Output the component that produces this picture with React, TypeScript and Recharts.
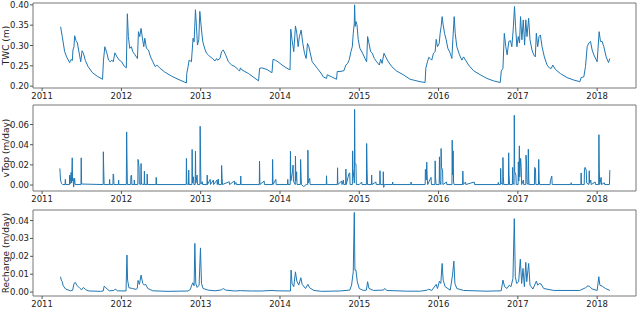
import { LineChart, Line, XAxis, YAxis, ReferenceArea } from "recharts";

// decimal year, value
const twc: [number, number][] = [
  [2011.233, 0.346], [2011.254, 0.322], [2011.284, 0.285], [2011.309, 0.272], [2011.347, 0.258],
  [2011.368, 0.266], [2011.381, 0.263], [2011.389, 0.289], [2011.402, 0.297], [2011.41, 0.324],
  [2011.427, 0.312], [2011.444, 0.307], [2011.487, 0.26], [2011.504, 0.287], [2011.521, 0.281],
  [2011.546, 0.263], [2011.58, 0.248], [2011.635, 0.233], [2011.698, 0.224], [2011.762, 0.217],
  [2011.774, 0.264], [2011.791, 0.297], [2011.817, 0.281], [2011.838, 0.264], [2011.859, 0.26],
  [2011.88, 0.264], [2011.897, 0.26], [2011.918, 0.282], [2011.944, 0.272], [2011.973, 0.264],
  [2012.003, 0.26], [2012.037, 0.249], [2012.062, 0.245], [2012.075, 0.378], [2012.088, 0.322],
  [2012.105, 0.293], [2012.126, 0.297], [2012.143, 0.285], [2012.172, 0.277], [2012.202, 0.268],
  [2012.215, 0.334], [2012.231, 0.322], [2012.248, 0.342], [2012.265, 0.318], [2012.282, 0.297],
  [2012.295, 0.318], [2012.316, 0.293], [2012.341, 0.289], [2012.367, 0.272], [2012.397, 0.26],
  [2012.426, 0.248], [2012.447, 0.252], [2012.481, 0.245], [2012.545, 0.235], [2012.629, 0.225],
  [2012.714, 0.217], [2012.82, 0.208], [2012.824, 0.231], [2012.841, 0.248], [2012.854, 0.264],
  [2012.871, 0.262], [2012.883, 0.26], [2012.904, 0.318], [2012.917, 0.309], [2012.934, 0.388],
  [2012.947, 0.346], [2012.959, 0.301], [2012.976, 0.314], [2012.989, 0.384], [2013.01, 0.338],
  [2013.027, 0.309], [2013.053, 0.291], [2013.074, 0.281], [2013.095, 0.277], [2013.12, 0.272],
  [2013.15, 0.268], [2013.179, 0.262], [2013.201, 0.268], [2013.213, 0.264], [2013.243, 0.268],
  [2013.264, 0.285], [2013.285, 0.289], [2013.315, 0.277], [2013.349, 0.26], [2013.391, 0.252],
  [2013.433, 0.248], [2013.476, 0.24], [2013.49, 0.237], [2013.501, 0.245], [2013.52, 0.24],
  [2013.603, 0.231], [2013.73, 0.213], [2013.743, 0.244], [2013.772, 0.245], [2013.835, 0.241],
  [2013.899, 0.233], [2013.912, 0.266], [2013.941, 0.264], [2013.975, 0.26], [2014.026, 0.252],
  [2014.089, 0.244], [2014.127, 0.24], [2014.136, 0.34], [2014.152, 0.314], [2014.174, 0.285],
  [2014.195, 0.348], [2014.212, 0.33], [2014.229, 0.297], [2014.245, 0.322], [2014.267, 0.338],
  [2014.288, 0.305], [2014.309, 0.281], [2014.33, 0.268], [2014.347, 0.305], [2014.364, 0.297],
  [2014.406, 0.26], [2014.47, 0.244], [2014.525, 0.23], [2014.545, 0.223], [2014.587, 0.219],
  [2014.596, 0.228], [2014.65, 0.223], [2014.713, 0.217], [2014.722, 0.236], [2014.756, 0.236],
  [2014.806, 0.238], [2014.831, 0.252], [2014.853, 0.256], [2014.874, 0.265], [2014.895, 0.285],
  [2014.912, 0.297], [2014.924, 0.33], [2014.937, 0.355], [2014.941, 0.4], [2014.949, 0.347],
  [2014.958, 0.359], [2014.971, 0.351], [2014.987, 0.314], [2015.008, 0.293], [2015.042, 0.281],
  [2015.072, 0.268], [2015.093, 0.26], [2015.105, 0.322], [2015.122, 0.306], [2015.143, 0.285],
  [2015.164, 0.281], [2015.19, 0.268], [2015.219, 0.26], [2015.253, 0.252], [2015.27, 0.266],
  [2015.287, 0.256], [2015.312, 0.281], [2015.333, 0.272], [2015.367, 0.26], [2015.409, 0.248],
  [2015.472, 0.237], [2015.556, 0.228], [2015.641, 0.217], [2015.683, 0.215], [2015.767, 0.211],
  [2015.83, 0.209], [2015.839, 0.244], [2015.86, 0.26], [2015.877, 0.271], [2015.894, 0.268],
  [2015.914, 0.264], [2015.936, 0.281], [2015.957, 0.285], [2015.97, 0.315], [2015.986, 0.297],
  [2016.008, 0.305], [2016.02, 0.33], [2016.033, 0.347], [2016.045, 0.371], [2016.058, 0.351],
  [2016.075, 0.33], [2016.096, 0.314], [2016.117, 0.293], [2016.147, 0.281], [2016.168, 0.268],
  [2016.18, 0.314], [2016.197, 0.371], [2016.21, 0.33], [2016.23, 0.297], [2016.264, 0.277],
  [2016.294, 0.264], [2016.315, 0.272], [2016.34, 0.264], [2016.378, 0.252], [2016.441, 0.238],
  [2016.526, 0.228], [2016.61, 0.219], [2016.694, 0.213], [2016.778, 0.209], [2016.791, 0.237],
  [2016.812, 0.244], [2016.829, 0.33], [2016.848, 0.297], [2016.865, 0.277], [2016.886, 0.31],
  [2016.907, 0.312], [2016.924, 0.297], [2016.941, 0.338], [2016.958, 0.396], [2016.971, 0.347],
  [2016.988, 0.297], [2017.005, 0.322], [2017.021, 0.306], [2017.034, 0.371], [2017.051, 0.314],
  [2017.068, 0.363], [2017.085, 0.301], [2017.1, 0.363], [2017.115, 0.322], [2017.136, 0.367],
  [2017.153, 0.314], [2017.178, 0.289], [2017.2, 0.277], [2017.22, 0.272], [2017.233, 0.33],
  [2017.25, 0.297], [2017.267, 0.322], [2017.284, 0.326], [2017.305, 0.297], [2017.334, 0.272],
  [2017.368, 0.252], [2017.402, 0.244], [2017.423, 0.244], [2017.44, 0.252], [2017.474, 0.241],
  [2017.537, 0.231], [2017.621, 0.221], [2017.706, 0.215], [2017.782, 0.211], [2017.798, 0.221],
  [2017.832, 0.223], [2017.853, 0.248], [2017.874, 0.297], [2017.895, 0.306], [2017.916, 0.31],
  [2017.937, 0.289], [2017.958, 0.277], [2018.0, 0.26], [2018.025, 0.334], [2018.042, 0.31],
  [2018.063, 0.31], [2018.084, 0.297], [2018.114, 0.272], [2018.143, 0.258], [2018.16, 0.268],
];

const vtop: [number, number][] = [
  [2011.224, 0.0165], [2011.232, 0.005], [2011.245, 0.0015], [2011.26, 0.0005],
  [2011.29, 0.0005], [2011.293, 0.0056], [2011.297, 0.0005],
  [2011.345, 0.0005], [2011.347, 0.0099], [2011.352, 0.001], [2011.366, 0.0125], [2011.372, 0.002],
  [2011.38, 0.027], [2011.384, 0.004], [2011.392, 0.0066], [2011.397, -0.002], [2011.41, 0.0066], [2011.416, 0.0005],
  [2011.49, 0.0005], [2011.493, 0.027], [2011.498, 0.001],
  [2011.77, 0.0005], [2011.772, 0.033], [2011.777, 0.0155], [2011.782, 0.0005],
  [2011.848, 0.0005], [2011.851, 0.0056], [2011.855, 0.0005],
  [2011.893, 0.0005], [2011.896, 0.011], [2011.902, 0.0096], [2011.906, 0.0005],
  [2011.962, 0.0005], [2011.965, 0.005], [2011.968, 0.0005],
  [2012.062, 0.0005], [2012.066, 0.0527], [2012.07, 0.028], [2012.075, 0.0005],
  [2012.117, 0.0005], [2012.12, 0.009], [2012.128, 0.0099], [2012.132, 0.0005],
  [2012.16, 0.0005], [2012.163, 0.005], [2012.166, 0.0005],
  [2012.207, 0.0005], [2012.21, 0.0254], [2012.222, 0.018], [2012.226, 0.001], [2012.245, 0.0005],
  [2012.248, 0.0214], [2012.253, 0.001],
  [2012.287, 0.0005], [2012.29, 0.0138], [2012.294, 0.0005], [2012.322, 0.0005], [2012.325, 0.0109], [2012.33, 0.0005],
  [2012.436, 0.0005], [2012.439, 0.0076], [2012.443, 0.0005],
  [2012.817, 0.0005], [2012.82, 0.0264], [2012.825, 0.001], [2012.846, 0.0005], [2012.849, 0.0148], [2012.853, 0.0005],
  [2012.889, 0.0005], [2012.892, 0.0353], [2012.897, 0.002], [2012.91, 0.0082], [2012.914, 0.0005],
  [2012.931, 0.0005], [2012.934, 0.0336], [2012.939, 0.002], [2012.955, 0.0099], [2012.96, 0.0005],
  [2012.99, 0.0005], [2012.993, 0.0583], [2012.998, 0.026], [2013.003, 0.001], [2013.02, 0.0033], [2013.024, 0.0005],
  [2013.079, 0.0005], [2013.082, 0.0099], [2013.086, 0.0005], [2013.12, 0.0056], [2013.124, 0.0005],
  [2013.16, 0.005], [2013.164, 0.0005], [2013.205, 0.005], [2013.209, 0.0005], [2013.222, 0.006], [2013.226, 0.0005],
  [2013.261, 0.0005], [2013.264, 0.0194], [2013.27, 0.0066], [2013.275, 0.0005],
  [2013.36, 0.0033], [2013.364, 0.0005], [2013.424, 0.004], [2013.428, 0.0005], [2013.445, 0.0026], [2013.449, 0.0005],
  [2013.502, 0.0005], [2013.505, 0.0089], [2013.509, 0.0005],
  [2013.739, 0.0005], [2013.742, 0.0237], [2013.747, 0.0005], [2013.8, 0.004], [2013.804, 0.0005],
  [2013.904, 0.0005], [2013.907, 0.0254], [2013.912, 0.0005], [2013.948, 0.0056], [2013.952, 0.0005],
  [2014.095, 0.0005], [2014.098, 0.0056], [2014.102, 0.0005],
  [2014.129, 0.0005], [2014.132, 0.0336], [2014.137, 0.004], [2014.158, 0.0132], [2014.165, 0.0198], [2014.17, 0.004],
  [2014.192, 0.0005], [2014.195, 0.0287], [2014.2, 0.004], [2014.21, 0.0132], [2014.215, 0.0005],
  [2014.257, 0.0005], [2014.26, 0.0254], [2014.266, 0.0089], [2014.27, 0.0005], [2014.3, -0.0015], [2014.33, 0.0005],
  [2014.349, 0.0005], [2014.352, 0.0346], [2014.357, 0.002], [2014.375, 0.0066], [2014.38, 0.0005],
  [2014.584, 0.0005], [2014.587, 0.0092], [2014.591, 0.0005],
  [2014.723, 0.0005], [2014.726, 0.0171], [2014.73, 0.0005], [2014.778, 0.004], [2014.782, 0.0005], [2014.8, 0.005], [2014.804, 0.0005],
  [2014.828, 0.0005], [2014.831, 0.0158], [2014.836, 0.0005], [2014.862, 0.0089], [2014.87, 0.0115], [2014.88, 0.012], [2014.884, 0.0005],
  [2014.913, 0.0005], [2014.916, 0.0339], [2014.92, 0.0165], [2014.938, 0.002], [2014.941, 0.0751], [2014.946, 0.0214],
  [2014.958, 0.0208], [2014.963, 0.0005],
  [2015.0, 0.0005], [2015.03, 0.003], [2015.034, 0.0005],
  [2015.09, 0.0005], [2015.093, 0.0412], [2015.098, 0.0165], [2015.103, 0.0005], [2015.153, 0.0005], [2015.156, 0.0099],
  [2015.16, 0.0005], [2015.21, 0.003], [2015.214, 0.0005],
  [2015.258, 0.0005], [2015.261, 0.0142], [2015.266, 0.0005], [2015.3, 0.0005], [2015.303, 0.0132], [2015.308, -0.0023], [2015.316, 0.0005],
  [2015.418, 0.0005], [2015.421, 0.003], [2015.425, 0.0005], [2015.65, 0.0005], [2015.653, 0.003], [2015.657, 0.0005],
  [2015.831, 0.0005], [2015.834, 0.0155], [2015.845, 0.005], [2015.851, 0.0227], [2015.856, 0.0089], [2015.862, 0.0005],
  [2015.905, 0.0076], [2015.91, 0.0005], [2015.954, 0.0005], [2015.957, 0.024], [2015.962, 0.0076], [2015.968, 0.0005],
  [2016.008, 0.0005], [2016.011, 0.028], [2016.016, 0.004], [2016.029, 0.0005], [2016.032, 0.0362], [2016.037, 0.0175],
  [2016.05, 0.0148], [2016.055, 0.0005],
  [2016.1, 0.003], [2016.104, 0.0005], [2016.169, 0.0005], [2016.172, 0.0445], [2016.177, 0.01], [2016.184, 0.0339],
  [2016.189, 0.003], [2016.196, 0.0005],
  [2016.303, 0.0005], [2016.306, 0.0138], [2016.311, 0.0005], [2016.34, 0.003], [2016.344, 0.0005], [2016.45, 0.003], [2016.454, 0.0005],
  [2016.75, 0.0005], [2016.753, 0.0026], [2016.757, 0.0005], [2016.78, 0.0005], [2016.783, 0.0165], [2016.788, 0.002],
  [2016.809, 0.0005], [2016.812, 0.0273], [2016.817, 0.0082], [2016.822, 0.0005],
  [2016.881, 0.0005], [2016.884, 0.032], [2016.889, 0.0099], [2016.895, 0.0005], [2016.931, 0.0005], [2016.934, 0.0175],
  [2016.94, 0.002], [2016.952, 0.0005], [2016.955, 0.0692], [2016.96, 0.0132], [2016.975, 0.0099], [2016.98, 0.0005],
  [2017.003, 0.0005], [2017.006, 0.023], [2017.012, 0.004], [2017.019, 0.0389], [2017.024, 0.008], [2017.035, 0.0264],
  [2017.042, 0.0175], [2017.047, 0.0005], [2017.07, 0.005], [2017.074, 0.0005],
  [2017.1, 0.0005], [2017.103, 0.0297], [2017.11, 0.0208], [2017.115, 0.002], [2017.129, 0.0005], [2017.132, 0.0356],
  [2017.137, 0.0066], [2017.142, 0.0005],
  [2017.209, 0.0005], [2017.212, 0.0175], [2017.222, 0.0165], [2017.227, 0.0005], [2017.26, 0.0005], [2017.263, 0.0254],
  [2017.268, 0.005], [2017.275, 0.0005],
  [2017.407, 0.0005], [2017.41, 0.0043], [2017.428, 0.0089], [2017.433, 0.0005], [2017.669, 0.0005], [2017.672, 0.0023], [2017.676, 0.0005],
  [2017.795, 0.0005], [2017.798, 0.012], [2017.803, 0.0005], [2017.837, 0.0005], [2017.84, 0.0165], [2017.848, 0.0175],
  [2017.862, 0.0148], [2017.868, 0.002], [2017.897, 0.0005], [2017.9, 0.0142], [2017.905, 0.002], [2017.92, 0.005], [2017.925, 0.0005],
  [2017.975, 0.003], [2017.98, 0.0005], [2018.019, 0.0005], [2018.022, 0.05], [2018.027, 0.0148], [2018.032, 0.0005],
  [2018.05, 0.0076], [2018.055, 0.0005], [2018.09, 0.0023], [2018.095, 0.0005], [2018.155, 0.0005], [2018.16, 0.0148],
];

const recharge: [number, number][] = [
  [2011.233, 0.0086], [2011.241, 0.0067], [2011.254, 0.0058], [2011.266, 0.0035], [2011.296, 0.0017],
  [2011.36, 0.0007], [2011.385, 0.001], [2011.402, 0.0048], [2011.419, 0.0054], [2011.436, 0.0039],
  [2011.478, 0.002], [2011.5, 0.0013], [2011.521, 0.0026], [2011.55, 0.0013], [2011.592, 0.0006],
  [2011.74, 0.0004], [2011.77, 0.0006], [2011.783, 0.0033], [2011.804, 0.0024], [2011.846, 0.0007],
  [2011.905, 0.0009], [2011.922, 0.0017], [2011.952, 0.0007], [2012.058, 0.0006], [2012.07, 0.0207],
  [2012.078, 0.0067], [2012.095, 0.0024], [2012.142, 0.002], [2012.184, 0.0015], [2012.2, 0.002],
  [2012.21, 0.0065], [2012.227, 0.0043], [2012.248, 0.0095], [2012.269, 0.0048], [2012.29, 0.0039],
  [2012.303, 0.0045], [2012.333, 0.002], [2012.396, 0.0007], [2012.587, 0.0004], [2012.84, 0.0006],
  [2012.87, 0.0015], [2012.883, 0.0033], [2012.9, 0.0052], [2012.917, 0.0035], [2012.926, 0.0272],
  [2012.938, 0.0048], [2012.955, 0.0026], [2012.98, 0.0039], [2012.997, 0.0247], [2013.01, 0.0048],
  [2013.03, 0.002], [2013.094, 0.0011], [2013.18, 0.0007], [2013.26, 0.0012], [2013.285, 0.002],
  [2013.315, 0.0011], [2013.43, 0.0006], [2013.5, 0.0008], [2013.64, 0.0006], [2013.77, 0.0006],
  [2013.9, 0.0009], [2013.96, 0.0007], [2014.132, 0.0006], [2014.14, 0.0123], [2014.152, 0.0048],
  [2014.174, 0.003], [2014.195, 0.0113], [2014.212, 0.0061], [2014.237, 0.0039], [2014.263, 0.008],
  [2014.28, 0.0043], [2014.322, 0.002], [2014.352, 0.0043], [2014.373, 0.0024], [2014.428, 0.0009],
  [2014.525, 0.0004], [2014.75, 0.0006], [2014.88, 0.0011], [2014.903, 0.0039], [2014.924, 0.0113],
  [2014.937, 0.0445], [2014.945, 0.0123], [2014.958, 0.0123], [2014.975, 0.0058], [2015.0, 0.002],
  [2015.05, 0.0009], [2015.09, 0.0011], [2015.105, 0.0058], [2015.122, 0.002], [2015.18, 0.0009],
  [2015.3, 0.0011], [2015.325, 0.002], [2015.345, 0.0009], [2015.6, 0.0005], [2015.77, 0.0005],
  [2015.86, 0.0011], [2015.872, 0.0017], [2015.914, 0.0009], [2015.97, 0.0043], [2015.986, 0.002],
  [2016.011, 0.0061], [2016.028, 0.0048], [2016.045, 0.016], [2016.058, 0.0067], [2016.083, 0.003],
  [2016.147, 0.0011], [2016.176, 0.0095], [2016.193, 0.0173], [2016.206, 0.0048], [2016.23, 0.002],
  [2016.315, 0.0009], [2016.6, 0.0005], [2016.79, 0.0007], [2016.812, 0.0067], [2016.833, 0.003],
  [2016.863, 0.002], [2016.892, 0.0039], [2016.913, 0.003], [2016.938, 0.0076], [2016.955, 0.0411],
  [2016.968, 0.0086], [2016.985, 0.0048], [2017.01, 0.0058], [2017.031, 0.0184], [2017.048, 0.0048],
  [2017.065, 0.0132], [2017.082, 0.003], [2017.1, 0.0166], [2017.112, 0.0058], [2017.136, 0.016],
  [2017.153, 0.0039], [2017.19, 0.0017], [2017.233, 0.0061], [2017.25, 0.0039], [2017.271, 0.0048],
  [2017.292, 0.0045], [2017.326, 0.002], [2017.452, 0.0009], [2017.78, 0.0009], [2017.853, 0.0024],
  [2017.883, 0.0035], [2017.908, 0.003], [2017.937, 0.0017], [2018.0, 0.0009], [2018.021, 0.0086],
  [2018.034, 0.0039], [2018.063, 0.0033], [2018.105, 0.002], [2018.16, 0.0009],
];

const yearTicks = [2011, 2012, 2013, 2014, 2015, 2016, 2017, 2018];
const twcTicks = [0.2, 0.25, 0.3, 0.35, 0.4];
const vtopTicks = [0, 0.02, 0.04, 0.06];
const rechargeTicks = [0, 0.01, 0.02, 0.03, 0.04];

const X_DOMAIN: [number, number] = [2010.885, 2018.49];
const FONT = "DejaVu Sans";
const TICK_SIZE = 8.5;
const TEXT = "#222";

function YLabel({ viewBox, text }: any) {
  const cy = viewBox ? viewBox.y + viewBox.height / 2 : 0;
  return (
    <text
      transform={`translate(5.5, ${cy}) rotate(-90)`}
      textAnchor="middle"
      dominantBaseline="central"
      fontSize={9}
      fontFamily={FONT}
      fill={TEXT}
    >
      {text}
    </text>
  );
}

type PanelProps = {
  top: number;
  height: number;
  marginTop: number;
  plotHeight: number;
  series: [number, number][];
  yDomain: [number, number];
  yTicks: number[];
  label: string;
};

function Panel({ top, height, marginTop, plotHeight, series, yDomain, yTicks, label }: PanelProps) {
  const rows = series.map(([t, v]) => ({ t, v }));
  return (
    <div style={{ position: "absolute", left: 0, top }}>
      <LineChart
        width={640}
        height={height}
        data={rows}
        margin={{ top: marginTop, right: 4, bottom: 0, left: 0 }}
      >
        <XAxis
          dataKey="t"
          type="number"
          domain={X_DOMAIN}
          ticks={yearTicks}
          interval={0}
          allowDataOverflow
          height={height - marginTop - plotHeight}
          axisLine={false}
          tickLine={{ stroke: "#555" }}
          tickSize={3}
          tickMargin={2}
          tick={{ fontSize: TICK_SIZE, fill: TEXT, fontFamily: FONT }}
        />
        <YAxis
          type="number"
          domain={yDomain}
          ticks={yTicks}
          interval={0}
          allowDataOverflow
          width={33}
          axisLine={false}
          tickLine={{ stroke: "#555" }}
          tickSize={3}
          tickMargin={1}
          tick={{ fontSize: TICK_SIZE, fill: TEXT, fontFamily: FONT }}
          tickFormatter={(v: number) => v.toFixed(2)}
          label={<YLabel text={label} />}
        />
        <ReferenceArea
          x1={X_DOMAIN[0]}
          x2={X_DOMAIN[1]}
          y1={yDomain[0]}
          y2={yDomain[1]}
          fill="none"
          stroke="#777"
          strokeWidth={1}
        />
        <Line
          type="linear"
          dataKey="v"
          stroke="#1f77b4"
          strokeWidth={1}
          dot={false}
          isAnimationActive={false}
        />
      </LineChart>
    </div>
  );
}

export default function App() {
  return (
    <div
      style={{
        position: "absolute",
        left: 0,
        top: 0,
        width: 640,
        height: 323,
        background: "#fff",
        fontFamily: FONT,
      }}
    >
      <Panel
        top={0}
        height={110}
        marginTop={3}
        plotHeight={85}
        series={twc}
        yDomain={[0.1955, 0.4045]}
        yTicks={twcTicks}
        label="TWC (m)"
      />
      <Panel
        top={100}
        height={110}
        marginTop={5}
        plotHeight={86}
        series={vtop}
        yDomain={[-0.0059, 0.0794]}
        yTicks={vtopTicks}
        label="vTop (m/day)"
      />
      <Panel
        top={205}
        height={118}
        marginTop={5}
        plotHeight={86}
        series={recharge}
        yDomain={[-0.0022, 0.0459]}
        yTicks={rechargeTicks}
        label="Recharge (m/day)"
      />
    </div>
  );
}
